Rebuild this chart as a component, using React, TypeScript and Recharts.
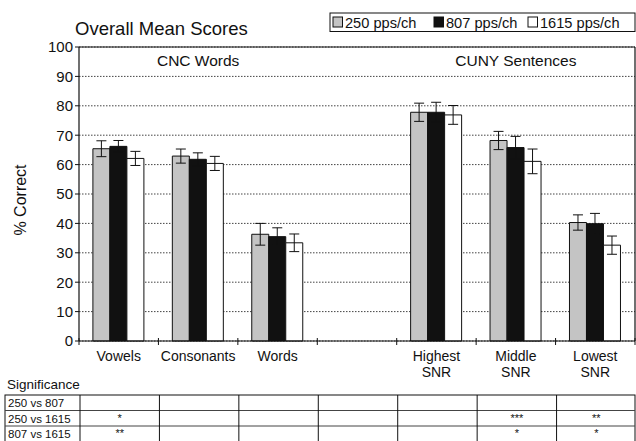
import React from "react";
import {
  BarChart,
  Bar,
  XAxis,
  YAxis,
  CartesianGrid,
  ErrorBar,
  ReferenceLine,
} from "recharts";

const categories = ["Vowels", "Consonants", "Words", "", "Highest\nSNR", "Middle\nSNR", "Lowest\nSNR"];
const mean250 = [65.4, 62.9, 36.3, null, 77.8, 68.2, 40.3];
const mean807 = [66.2, 61.8, 35.5, null, 77.8, 65.8, 39.9];
const mean1615 = [62.1, 60.4, 33.4, null, 76.9, 61.1, 32.6];
const err250 = [2.7, 2.4, 3.7, null, 3.1, 3.1, 2.6];
const err807 = [2.0, 2.2, 3.0, null, 3.4, 3.8, 3.5];
const err1615 = [2.4, 2.4, 3.0, null, 3.2, 4.2, 3.1];
const yTicks = [0, 10, 20, 30, 40, 50, 60, 70, 80, 90, 100];

const sigRowLabels = ["250 vs 807", "250 vs 1615", "807 vs 1615"];
const sig250v807 = ["", "", "", "", "", "", ""];
const sig250v1615 = ["*", "", "", "", "", "***", "**"];
const sig807v1615 = ["**", "", "", "", "", "*", "*"];
const sigRows = [sig250v807, sig250v1615, sig807v1615];

const legendItems = [
  { label: "250 pps/ch", fill: "#c4c4c4" },
  { label: "807 pps/ch", fill: "#111111" },
  { label: "1615 pps/ch", fill: "#ffffff" },
];

const data = categories.map((name, i) => ({
  name,
  v250: mean250[i],
  v807: mean807[i],
  v1615: mean1615[i],
  e250: err250[i],
  e807: err807[i],
  e1615: err1615[i],
}));

const W = 636;
const H = 441;
const PLOT_LEFT = 79;
const PLOT_RIGHT = 635;
const PLOT_TOP = 47;
const PLOT_BOTTOM = 341;
const BAND = (PLOT_RIGHT - PLOT_LEFT) / categories.length;
const FONT = "'Liberation Sans', Arial, Helvetica, sans-serif";

const XTick = (props: any) => {
  const { x, y, payload, index } = props;
  const lines = String(payload.value).split("\n");
  const isLast = index === categories.length - 1;
  return (
    <g>
      <line x1={x - BAND / 2} x2={x - BAND / 2} y1={y - 3} y2={y + 4} stroke="#111" strokeWidth={1} />
      {isLast && (
        <line x1={x + BAND / 2} x2={x + BAND / 2} y1={y - 3} y2={y + 4} stroke="#111" strokeWidth={1} />
      )}
      <text x={x} y={y + 20} textAnchor="middle" fontSize={14} fill="#111" fontFamily={FONT}>
        {lines.map((l, k) => (
          <tspan key={k} x={x} dy={k === 0 ? 0 : 16}>
            {l}
          </tspan>
        ))}
      </text>
    </g>
  );
};

export default function App() {
  const tableTop = 395;
  const rowH = 15.5;
  const tableLeft = 5;
  const legendX = [333, 434, 528];
  return (
    <div
      style={{
        position: "absolute",
        left: 0,
        top: 0,
        width: W,
        height: H,
        background: "#fff",
        fontFamily: FONT,
        overflow: "hidden",
      }}
    >
      <BarChart
        width={W}
        height={H}
        data={data}
        margin={{ top: PLOT_TOP, right: 0, left: 0, bottom: H - PLOT_BOTTOM - 40 }}
        barCategoryGap="17.5%"
        barGap={0}
      >
        <CartesianGrid vertical={false} stroke="#444" strokeDasharray="1.5 1.5" />
        <XAxis
          dataKey="name"
          height={40}
          axisLine={{ stroke: "#111", strokeWidth: 1.2 }}
          tickLine={false}
          tickSize={0}
          tickMargin={0}
          interval={0}
          tick={<XTick />}
        />
        <YAxis
          width={PLOT_LEFT}
          domain={[0, 100]}
          ticks={yTicks}
          interval={0}
          axisLine={{ stroke: "#111", strokeWidth: 1.2 }}
          tickLine={{ stroke: "#111" }}
          tickSize={4}
          tickMargin={2}
          tick={{ fontSize: 15, fill: "#111", fontFamily: FONT }}
        />
        <YAxis
          yAxisId="right"
          orientation="right"
          width={1}
          domain={[0, 100]}
          tick={false}
          tickLine={false}
          axisLine={{ stroke: "#111", strokeWidth: 1.2 }}
        />
        <ReferenceLine y={100} stroke="#111" strokeWidth={1.2} />
        <Bar dataKey="v250" fill="#c4c4c4" stroke="#111" strokeWidth={1} isAnimationActive={false}>
          <ErrorBar dataKey="e250" width={5} stroke="#111" strokeWidth={1} />
        </Bar>
        <Bar dataKey="v807" fill="#111111" stroke="#111" strokeWidth={1} isAnimationActive={false}>
          <ErrorBar dataKey="e807" width={5} stroke="#111" strokeWidth={1} />
        </Bar>
        <Bar dataKey="v1615" fill="#ffffff" stroke="#111" strokeWidth={1} isAnimationActive={false}>
          <ErrorBar dataKey="e1615" width={5} stroke="#111" strokeWidth={1} />
        </Bar>
      </BarChart>

      {/* overlay texts and significance table */}
      <svg
        width={W}
        height={H}
        style={{ position: "absolute", left: 0, top: 0, pointerEvents: "none" }}
        fontFamily={FONT}
      >
        <text x={75} y={35} fontSize={18.5} fill="#111">
          Overall Mean Scores
        </text>
        <text x={PLOT_LEFT + BAND * 1.5} y={66} fontSize={15.5} fill="#111" textAnchor="middle">
          CNC Words
        </text>
        <text x={PLOT_LEFT + BAND * 5.5} y={66} fontSize={15.5} fill="#111" textAnchor="middle">
          CUNY Sentences
        </text>
        <text
          x={0}
          y={0}
          fontSize={16}
          fill="#111"
          textAnchor="middle"
          transform={`translate(26, 200) rotate(-90)`}
        >
          % Correct
        </text>

        {/* legend */}
        <rect x={330} y={13} width={305} height={18.5} fill="#fff" stroke="#111" strokeWidth={1} />
        {legendItems.map((it, i) => (
          <g key={i}>
            <rect x={legendX[i]} y={17} width={9.5} height={10} fill={it.fill} stroke="#111" strokeWidth={1} />
            <text x={legendX[i] + 12} y={28} fontSize={14.6} fill="#111">
              {it.label}
            </text>
          </g>
        ))}

        {/* significance */}
        <text x={7} y={389} fontSize={13.5} fill="#111">
          Significance
        </text>
        <rect
          x={tableLeft}
          y={tableTop}
          width={PLOT_RIGHT - tableLeft}
          height={rowH * 3}
          fill="none"
          stroke="#111"
          strokeWidth={1}
        />
        {[1, 2].map((r) => (
          <line
            key={r}
            x1={tableLeft}
            x2={PLOT_RIGHT}
            y1={tableTop + rowH * r}
            y2={tableTop + rowH * r}
            stroke="#444"
            strokeWidth={1}
          />
        ))}
        {categories.map((_, c) => (
          <line
            key={c}
            x1={PLOT_LEFT + BAND * c + 1}
            x2={PLOT_LEFT + BAND * c + 1}
            y1={tableTop}
            y2={tableTop + rowH * 3}
            stroke="#111"
            strokeWidth={1}
          />
        ))}
        {sigRowLabels.map((lab, r) => (
          <text key={lab} x={8} y={tableTop + rowH * r + 12} fontSize={11.5} fill="#111">
            {lab}
          </text>
        ))}
        {sigRows.map((row, r) =>
          row.map((s, c) =>
            s ? (
              <text
                key={`${r}-${c}`}
                x={PLOT_LEFT + BAND * c + BAND / 2 + 1}
                y={tableTop + rowH * r + 11}
                fontSize={11}
                fill="#111"
                textAnchor="middle"
              >
                {s}
              </text>
            ) : null
          )
        )}
      </svg>
    </div>
  );
}
